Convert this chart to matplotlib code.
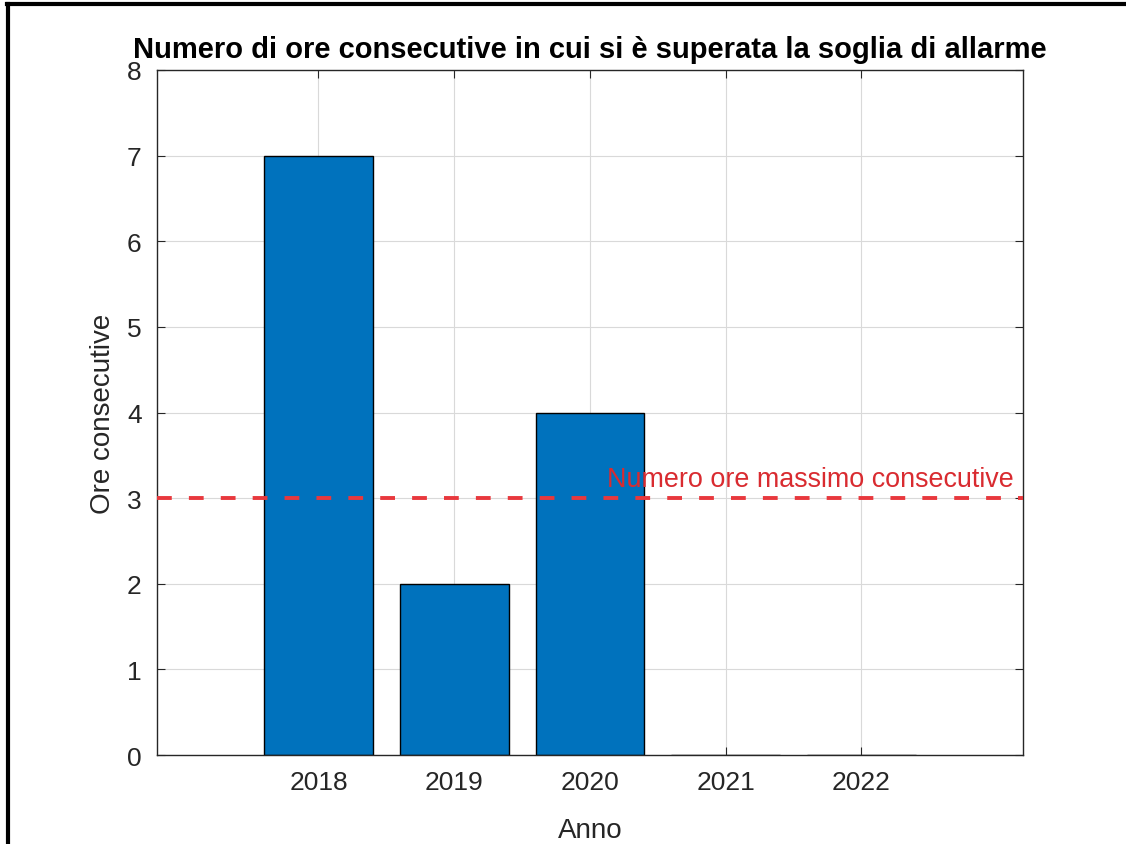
import numpy as np
import matplotlib.pyplot as plt
from matplotlib.lines import Line2D

plt.rcParams['font.family'] = ['Liberation Sans', 'DejaVu Sans']

anni = [2018, 2019, 2020, 2021, 2022]
ore = [7, 2, 4, 0, 0]
soglia = 3
soglia_label = 'Numero ore massimo consecutive'

blu = (0, 0.447, 0.741)
grigio = (0.15, 0.15, 0.15)

fig = plt.figure(figsize=(11.26, 8.45), dpi=100)
ax = fig.add_axes([0.1394, 0.1053, 0.7691, 0.8107])

ax.bar(anni, ore, width=0.8, color=blu, edgecolor='k', linewidth=1.0, zorder=2)

ax.axhline(soglia, color='#e8383d', linestyle=(0, (3.8, 4.4)), linewidth=2.8, zorder=3)
ax.text(2023.19 - 0.07, soglia + 0.07, soglia_label, color='#d92b30', fontsize=19.4,
        ha='right', va='bottom', zorder=4)

ax.set_xlim(2016.81, 2023.19)
ax.set_ylim(0, 8)
ax.set_xticks(anni)
ax.set_yticks(np.arange(0, 9, 1))

ax.grid(True, color=(0.85, 0.85, 0.85), linewidth=0.8, zorder=0)
ax.set_axisbelow(True)
ax.tick_params(direction='in', length=6, width=0.8, colors=grigio, labelsize=19,
               top=True, right=True, pad=11)
for s in ax.spines.values():
    s.set_color(grigio)
    s.set_linewidth(1.0)

ax.set_xlabel('Anno', fontsize=20, color=grigio, labelpad=16)
ax.set_ylabel('Ore consecutive', fontsize=20, color=grigio, labelpad=8)
ax.set_title('Numero di ore consecutive in cui si è superata la soglia di allarme',
             fontsize=21, fontweight='bold', pad=9)

# bordo nero (sinistra e alto)
fig.add_artist(Line2D([0.0071, 0.0071], [0, 0.9935], transform=fig.transFigure,
                      color='k', linewidth=3))
fig.add_artist(Line2D([0.0058, 1.0], [0.9935, 0.9935], transform=fig.transFigure,
                      color='k', linewidth=3))

fig.savefig('out.png', dpi=100)
